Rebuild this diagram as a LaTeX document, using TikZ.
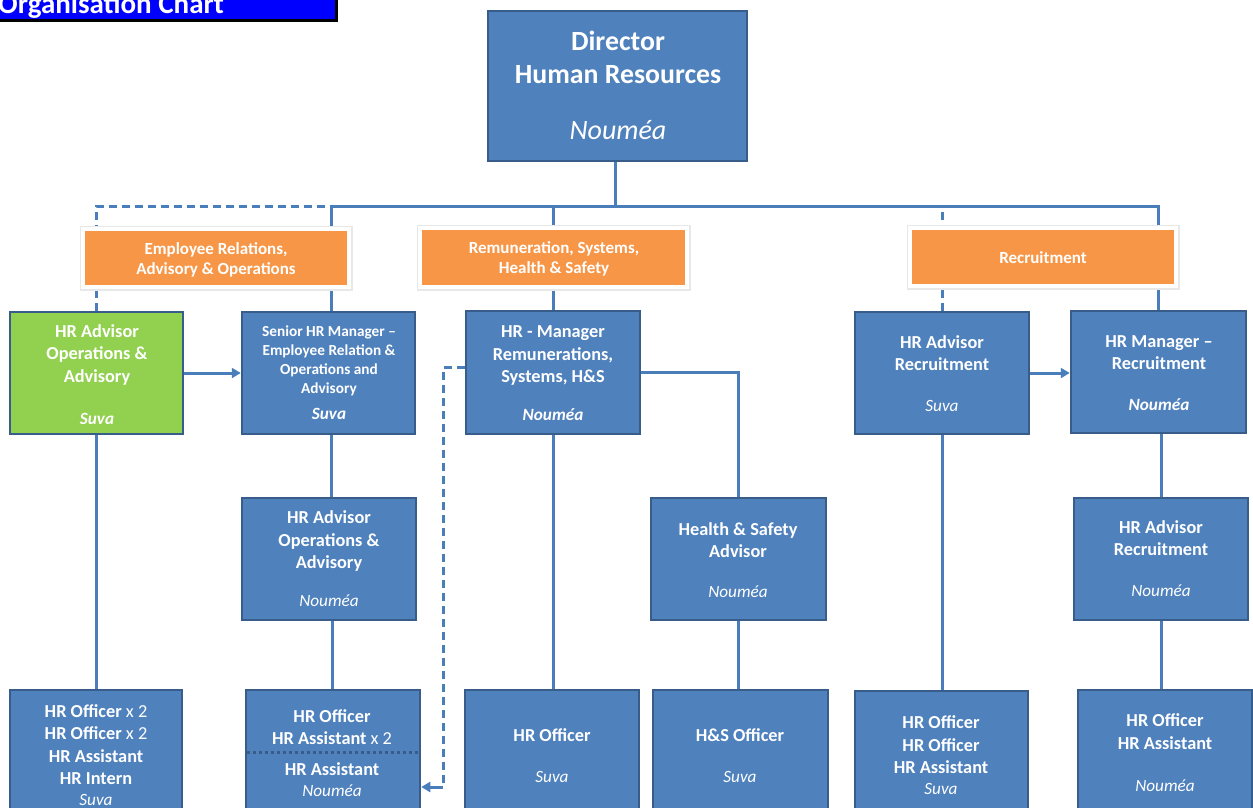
\documentclass[tikz,border=0pt]{standalone}
\usepackage{fontspec}
\setmainfont{Carlito}
\usetikzlibrary{arrows.meta,backgrounds}
\definecolor{boxblue}{HTML}{4F81BD}
\definecolor{boxedge}{HTML}{385D8A}
\definecolor{linecol}{HTML}{4A7EBB}
\definecolor{orangefill}{HTML}{F79646}
\definecolor{greenfill}{HTML}{92D050}
\definecolor{titleblue}{HTML}{0000FF}
\tikzset{
  bluebox/.style={draw=boxedge, fill=boxblue, line width=2.5pt, inner sep=0pt},
  greenbox/.style={draw=boxedge, fill=greenfill, line width=2.5pt, inner sep=0pt},
  orangebox/.style={fill=orangefill, draw=white, line width=3.5pt, inner sep=0pt,
    preaction={draw=black!9, line width=7pt, transform canvas={xshift=0.8pt, yshift=-0.8pt}}},
  plainbox/.style={inner sep=0pt},
  conn/.style={draw=linecol, line width=3pt},
  dconn/.style={conn, dash pattern=on 8pt off 5pt},
  tip/.style={-{Triangle[length=9pt,width=10pt]}},
  t/.style={text=white, anchor=base, inner sep=0pt, font=\bfseries\fontsize{18.3}{22}\selectfont},
  ts/.style={t, font=\bfseries\fontsize{15.3}{18}\selectfont},
  tor/.style={t, font=\bfseries\fontsize{17}{20}\selectfont},
  loc/.style={text=white, anchor=base, inner sep=0pt, font=\itshape\fontsize{17.2}{20}\selectfont},
  locb/.style={loc, font=\bfseries\itshape\fontsize{17.2}{20}\selectfont},
  big/.style={t, font=\bfseries\fontsize{27.8}{32}\selectfont},
  bigloc/.style={loc, font=\itshape\fontsize{28}{32}\selectfont},
  ttl/.style={text=white, anchor=base west, inner sep=0pt, font=\bfseries\fontsize{29}{32}\selectfont},
}
\newcommand\orgbox[6]{\node[#6, minimum width={(#4)-(#2)}, minimum height={(#5)-(#3)}] (#1) at ({((#2)+(#4))/2},{((#3)+(#5))/2}) {};}
\newcommand\tx[5]{\node[#4] (#1) at (#2,#3) {#5};}
\begin{document}
\begin{tikzpicture}[x=1pt,y=-1pt]
\useasboundingbox (0,0) rectangle (1253,807);
\clip (0,0) rectangle (1253,807);
% title
\orgbox{tshadow}{-6}{-6}{338}{22}{plainbox, fill=black}
\orgbox{tbox}{-6}{-6}{335}{19}{plainbox, fill=titleblue}
\tx{ttext}{-2}{13}{ttl}{Organisation Chart}
% boxes
\orgbox{dir}{488}{11}{747}{161}{bluebox}
\orgbox{o1}{83}{229}{349}{287}{orangebox}
\orgbox{o2}{420}{228}{687}{287}{orangebox}
\orgbox{o3}{910}{228}{1176}{286}{orangebox}
\orgbox{green}{10}{312}{183}{434}{greenbox}
\orgbox{sen}{242}{312}{415}{434}{bluebox}
\orgbox{hmrem}{466}{311}{640}{434}{bluebox}
\orgbox{advrec}{855}{312}{1029}{434}{bluebox}
\orgbox{hmrec}{1071}{311}{1246}{433}{bluebox}
\orgbox{advops}{242}{498}{416}{620}{bluebox}
\orgbox{hsadv}{651}{498}{826}{620}{bluebox}
\orgbox{advrecn}{1074}{498}{1248}{620}{bluebox}
\orgbox{b1}{10}{690}{182}{840}{bluebox}
\orgbox{b2}{246}{690}{420}{840}{bluebox}
\orgbox{b3}{465}{690}{639}{840}{bluebox}
\orgbox{b4}{653}{690}{828}{840}{bluebox}
\orgbox{b5}{855}{691}{1028}{840}{bluebox}
\orgbox{b6}{1078}{690}{1252}{840}{bluebox}
% texts
\tx{dir1}{618}{50}{big}{Director}
\tx{dir2}{618}{83}{big}{Human Resources}
\tx{dir3}{618}{139}{bigloc}{Nouméa}
\tx{o1a}{216}{254}{tor}{Employee Relations,}
\tx{o1b}{216}{274}{tor}{Advisory \& Operations}
\tx{o2a}{554}{253}{tor}{Remuneration, Systems,}
\tx{o2b}{554}{273}{tor}{Health \& Safety}
\tx{o3a}{1043}{263}{tor}{Recruitment}
\tx{g1}{97}{337}{t}{HR Advisor}
\tx{g2}{97}{359}{t}{Operations \&}
\tx{g3}{97}{382}{t}{Advisory}
\tx{g4}{97}{424}{locb}{Suva}
\tx{s1}{329}{336}{ts}{Senior HR Manager –}
\tx{s2}{329}{355}{ts}{Employee Relation \&}
\tx{s3}{329}{374}{ts}{Operations and}
\tx{s4}{329}{393}{ts}{Advisory}
\tx{s5}{329}{419}{locb}{Suva}
\tx{m1}{553}{337}{t}{HR - Manager}
\tx{m2}{553}{360}{t}{Remunerations,}
\tx{m3}{553}{382}{t}{Systems, H\&S}
\tx{m4}{553}{420}{locb}{Nouméa}
\tx{ar1}{942}{348}{t}{HR Advisor}
\tx{ar2}{942}{370}{t}{Recruitment}
\tx{ar3}{942}{411}{loc}{Suva}
\tx{mr1}{1159}{347}{t}{HR Manager –}
\tx{mr2}{1159}{369}{t}{Recruitment}
\tx{mr3}{1159}{410}{locb}{Nouméa}
\tx{ao1}{329}{523}{t}{HR Advisor}
\tx{ao2}{329}{546}{t}{Operations \&}
\tx{ao3}{329}{568}{t}{Advisory}
\tx{ao4}{329}{606}{loc}{Nouméa}
\tx{hs1}{738}{535}{t}{Health \& Safety}
\tx{hs2}{738}{557}{t}{Advisor}
\tx{hs3}{738}{597}{loc}{Nouméa}
\tx{rn1}{1161}{533}{t}{HR Advisor}
\tx{rn2}{1161}{555}{t}{Recruitment}
\tx{rn3}{1161}{596}{loc}{Nouméa}
\tx{b1a}{96}{717}{t}{HR Officer {\mdseries x 2}}
\tx{b1b}{96}{739}{t}{HR Officer {\mdseries x 2}}
\tx{b1c}{96}{762}{t}{HR Assistant}
\tx{b1d}{96}{784}{t}{HR Intern}
\tx{b1e}{96}{805}{loc}{Suva}
\tx{b2a}{332}{722}{t}{HR Officer}
\tx{b2b}{332}{744}{t}{HR Assistant {\mdseries x 2}}
\tx{b2c}{332}{775}{t}{HR Assistant}
\tx{b2d}{332}{796}{loc}{Nouméa}
\tx{b3a}{552}{741}{t}{HR Officer}
\tx{b3b}{552}{782}{loc}{Suva}
\tx{b4a}{740}{741}{t}{H\&S Officer}
\tx{b4b}{740}{782}{loc}{Suva}
\tx{b5a}{941}{728}{t}{HR Officer}
\tx{b5b}{941}{751}{t}{HR Officer}
\tx{b5c}{941}{773}{t}{HR Assistant}
\tx{b5d}{941}{794}{loc}{Suva}
\tx{b6a}{1165}{726}{t}{HR Officer}
\tx{b6b}{1165}{749}{t}{HR Assistant}
\tx{b6c}{1165}{791}{loc}{Nouméa}
% dotted divider in b2
\coordinate (dv) at (0,752);
\draw[draw=boxedge, line width=3pt, dash pattern=on 3pt off 3pt] ([xshift=2pt]b2.west |- dv) -- ([xshift=-2pt]b2.east |- dv);
% connectors
\coordinate (bar) at (615,206);
\coordinate (dl) at (443,787);
\begin{pgfonlayer}{background}
\draw[conn] (dir.south -| bar) -- (bar);
\draw[conn] ([xshift=3pt]sen.north) -- ([xshift=3pt]sen.north |- bar) -- (hmrec.north |- bar) -- (hmrec.north);
\draw[conn] (hmrem.north) -- (hmrem.north |- bar);
\draw[dconn] (advrec.north) -- (advrec.north |- bar);
\draw[dconn] (green.north) -- (green.north |- bar) -- ([xshift=3pt]sen.north |- bar);
\draw[conn, tip] (green.east) -- (sen.west);
\draw[conn, tip] (advrec.east) -- (advrec.east -| hmrec.west);
\draw[conn] (hmrem.east) -| (hsadv.north);
\draw[dconn] ([yshift=5pt]hmrem.west) -| (dl);
\draw[conn, tip] (dl) -- (dl -| b2.east);
\draw[conn] (green.south) -- (green.south |- b1.north);
\draw[conn] ([xshift=3pt]sen.south) -- ([xshift=3pt]sen.south |- advops.north);
\draw[conn] ([xshift=3pt]advops.south) -- ([xshift=3pt]advops.south |- b2.north);
\draw[conn] (hmrem.south) -- (hmrem.south |- b3.north);
\draw[conn] (hsadv.south) -- (hsadv.south |- b4.north);
\draw[conn] (advrec.south) -- (advrec.south |- b5.north);
\draw[conn] ([xshift=3pt]hmrec.south) -- ([xshift=3pt]hmrec.south |- advrecn.north);
\draw[conn] (advrecn.south) -- (advrecn.south |- b6.north);
\end{pgfonlayer}
\end{tikzpicture}
\end{document}
